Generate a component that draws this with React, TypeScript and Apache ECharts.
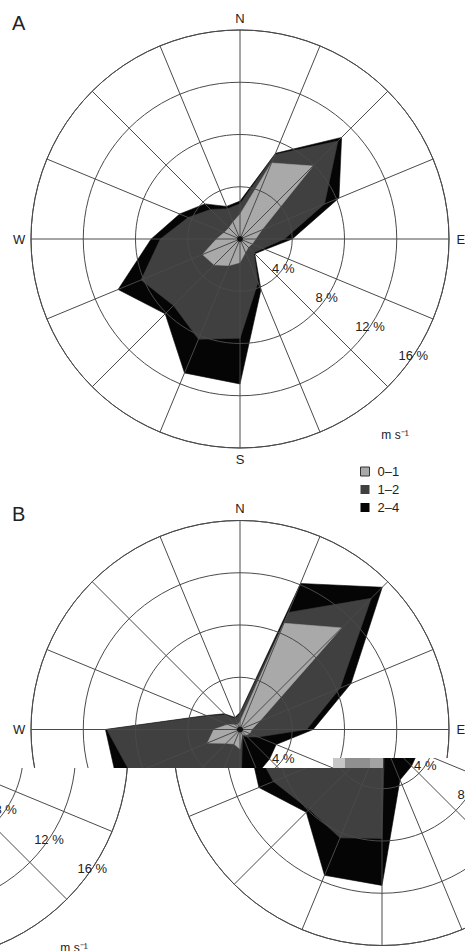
import React, { useEffect, useRef } from "react";
import * as echarts from "echarts";

// ---------- data ----------
const BEARINGS = [0, 22.5, 45, 67.5, 90, 112.5, 135, 157.5, 180, 202.5, 225, 247.5, 270, 292.5, 315, 337.5];
const SPEED_BANDS = ["0–1", "1–2", "2–4"];

// Panel A: frequency (%) per direction, per wind-speed band (m s-1)
const A_0_1 = [1.9, 6.3, 7.9, 1.8, 1.2, 1.0, 0.9, 1.1, 1.8, 2.2, 2.8, 3.1, 1.8, 1.3, 1.2, 1.4];
const A_1_2 = [0.8, 0.7, 2.7, 5.2, 2.2, 0.9, 0.6, 2.5, 5.8, 6.1, 4.4, 5.1, 4.3, 3.0, 2.0, 1.1];
const A_2_4 = [0.2, 0.1, 0.4, 1.2, 0.6, 0.2, 0.1, 0.6, 3.5, 2.8, 0.9, 1.9, 0.7, 0.7, 0.6, 0.2];

// Panel B
const B_0_1 = [0.6, 8.8, 11.0, 1.6, 0.9, 0.8, 0.6, 0.4, 1.5, 1.2, 1.5, 2.7, 2.0, 1.0, 0.5, 0.4];
const B_1_2 = [0.6, 0.9, 3.2, 6.7, 4.2, 0.7, 0.2, 0.1, 6.3, 7.2, 6.4, 6.3, 8.2, 1.7, 1.1, 0.5];
const B_2_4 = [0.1, 2.4, 1.2, 0.9, 0.5, 1.5, 2.4, 3.1, 3.6, 3.1, 0.3, 1.2, 0.1, 0.1, 0.1, 0.1];

const RING_TICKS = [4, 8, 12, 16];
const COMPASS_LABELS = ["N", "E", "S", "W"];
const COMPASS_BEARINGS = [0, 90, 180, 270];
const PANEL_LETTERS = ["A", "B"];

// ---------- styling / layout ----------
const FONT = '"Liberation Sans", Arial, sans-serif';
const BAND_COLORS = ["#a9a9a9", "#404040", "#050505"];
const GRID = "#4a4a4a";
const TEXT = "#222";
const PANEL_CENTERS = [
  [240, 239],
  [240, 729.5],
];
const ROSE_RADIUS = 209;
const RING_LABEL_BEARING = 124;
const COMPASS_R = 16.9;

function cumulative(bands: number[][]) {
  const out: number[][] = [];
  let run = BEARINGS.map(() => 0);
  bands.forEach((b) => {
    run = run.map((v, i) => v + b[i]);
    out.push(run.slice());
  });
  return out;
}

function closed(values: number[]) {
  const pts = BEARINGS.map((b, i) => [values[i], b]);
  pts.push([values[0], 360]);
  return pts;
}

// full = the complete figure; otherwise only panel B's marks (used for the displaced strips)
function buildOption(full: boolean) {
  const panels = [
    [A_0_1, A_1_2, A_2_4],
    [B_0_1, B_1_2, B_2_4],
  ];
  const series: any[] = [];
  panels.forEach((bands, p) => {
    const cum = cumulative(bands);
    cum.forEach((vals, k) => {
      series.push({
        type: "line",
        name: SPEED_BANDS[k],
        coordinateSystem: "polar",
        polarIndex: p,
        data: closed(vals),
        symbol: "none",
        silent: true,
        z: 4 - k,
        color: BAND_COLORS[k],
        lineStyle: { color: BAND_COLORS[k], width: 0.6 },
        areaStyle: { color: BAND_COLORS[k], opacity: 1 },
        clip: false,
      });
    });
    series.push({
      type: "scatter",
      coordinateSystem: "polar",
      polarIndex: p,
      data: [[0, 0]],
      symbolSize: 6,
      itemStyle: { color: "#000" },
      silent: true,
      z: 20,
    });
    if (!full && p === 0) return;
    series.push({
      type: "custom",
      coordinateSystem: "polar",
      polarIndex: p,
      silent: true,
      z: 15,
      data: RING_TICKS.map((t) => [t, RING_LABEL_BEARING]),
      renderItem: (params: any, api: any) => {
        const pt = api.coord([api.value(0), api.value(1)]);
        return {
          type: "text",
          x: pt[0],
          y: pt[1],
          style: {
            text: `${RING_TICKS[params.dataIndex]} %`,
            fill: TEXT,
            fontSize: 13,
            fontFamily: FONT,
            align: "center",
            verticalAlign: "middle",
          },
        };
      },
    });
    if (full) {
      series.push({
        type: "custom",
        coordinateSystem: "polar",
        polarIndex: p,
        silent: true,
        z: 15,
        data: COMPASS_BEARINGS.map((b) => [COMPASS_R, b]),
        renderItem: (params: any, api: any) => {
          const pt = api.coord([api.value(0), api.value(1)]);
          return {
            type: "text",
            x: pt[0],
            y: pt[1],
            style: {
              text: COMPASS_LABELS[params.dataIndex],
              fill: TEXT,
              fontSize: 13,
              fontFamily: FONT,
              align: "center",
              verticalAlign: "middle",
            },
          };
        },
      });
    }
  });

  const graphic: any[] = [];
  PANEL_CENTERS.forEach((c, p) => {
    if (full) {
      graphic.push({
        type: "text",
        x: 12,
        y: c[1] - 216,
        silent: true,
        style: { text: PANEL_LETTERS[p], fill: TEXT, fontSize: 20, fontFamily: FONT, verticalAlign: "middle" },
      });
    }
    if (full ? p === 0 : p === 1) {
      graphic.push({
        type: "text",
        x: c[0] + 155,
        y: c[1] + 196,
        silent: true,
        style: { text: "m s⁻¹", fill: TEXT, fontSize: 12, fontFamily: FONT, align: "center", verticalAlign: "middle" },
      });
    }
  });

  const option: any = {
    animation: false,
    backgroundColor: "#fff",
    polar: PANEL_CENTERS.map((c) => ({ center: c, radius: ROSE_RADIUS })),
    angleAxis: PANEL_CENTERS.map((_, i) => ({
      polarIndex: i,
      type: "value",
      min: 0,
      max: 360,
      interval: 22.5,
      startAngle: 90,
      clockwise: true,
      z: 10,
      axisLine: { show: true, lineStyle: { color: GRID, width: 1 } },
      axisTick: { show: false },
      axisLabel: { show: false },
      splitLine: { show: true, lineStyle: { color: GRID, width: 1 } },
    })),
    radiusAxis: PANEL_CENTERS.map((_, i) => ({
      polarIndex: i,
      type: "value",
      min: 0,
      max: 16,
      interval: 4,
      z: 10,
      axisLine: { show: false },
      axisTick: { show: false },
      axisLabel: { show: false },
      splitLine: { show: true, lineStyle: { color: GRID, width: 1 } },
    })),
    graphic,
    series,
  };
  if (full) {
    option.legend = {
      data: SPEED_BANDS.map((name, i) => ({
        name,
        itemStyle: i === 0 ? { borderColor: "#333", borderWidth: 1 } : { borderWidth: 0 },
      })),
      orient: "vertical",
      left: 360,
      top: 465,
      itemWidth: 9,
      itemHeight: 9,
      itemGap: 5,
      icon: "rect",
      selectedMode: false,
      padding: 0,
      textStyle: { fontSize: 13, fontFamily: FONT, color: TEXT, lineHeight: 12, padding: [0, 0, 0, 3] },
    };
  }
  return option;
}

function RoseChart({ dx, dy, full }: { dx: number; dy: number; full: boolean }) {
  const ref = useRef<HTMLDivElement>(null);
  useEffect(() => {
    const chart = echarts.init(ref.current as HTMLDivElement, null, { renderer: "svg" });
    chart.setOption(buildOption(full));
    return () => chart.dispose();
  }, [full]);
  return (
    <div
      ref={ref}
      style={{ position: "absolute", left: dx, top: dy, width: 465, height: 951 }}
    />
  );
}

function Clip({ pts, children }: { pts: number[][]; children: any }) {
  const poly = pts.map((p) => `${p[0]}px ${p[1]}px`).join(", ");
  return (
    <div
      style={{
        position: "absolute",
        left: 0,
        top: 0,
        width: 465,
        height: 951,
        overflow: "hidden",
        clipPath: `polygon(${poly})`,
      }}
    >
      {children}
    </div>
  );
}

// scan-line damage of the source picture
const NOISE_BLOCKS = [
  [333, 345, "#c6c6c6"],
  [345, 370, "#8f8f8f"],
  [370, 383, "#a2a2a2"],
];

export default function App() {
  return (
    <div style={{ position: "fixed", left: 0, top: 0, width: 465, height: 951, background: "#fff", overflow: "hidden" }}>
      <Clip pts={[[0, 0], [465, 0], [465, 758], [333, 758], [333, 768], [0, 768]]}>
        <RoseChart dx={0} dy={0} full={true} />
      </Clip>
      <Clip pts={[[383, 758], [465, 758], [465, 951], [143, 951], [143, 768], [383, 768]]}>
        <RoseChart dx={142} dy={7} full={false} />
      </Clip>
      <Clip pts={[[0, 768], [143, 768], [143, 951], [0, 951]]}>
        <RoseChart dx={-321} dy={22} full={false} />
      </Clip>
      {NOISE_BLOCKS.map((b, i) => (
        <div
          key={i}
          style={{
            position: "absolute",
            left: b[0] as number,
            top: 758,
            width: (b[1] as number) - (b[0] as number),
            height: 10,
            background: b[2] as string,
          }}
        />
      ))}
    </div>
  );
}
